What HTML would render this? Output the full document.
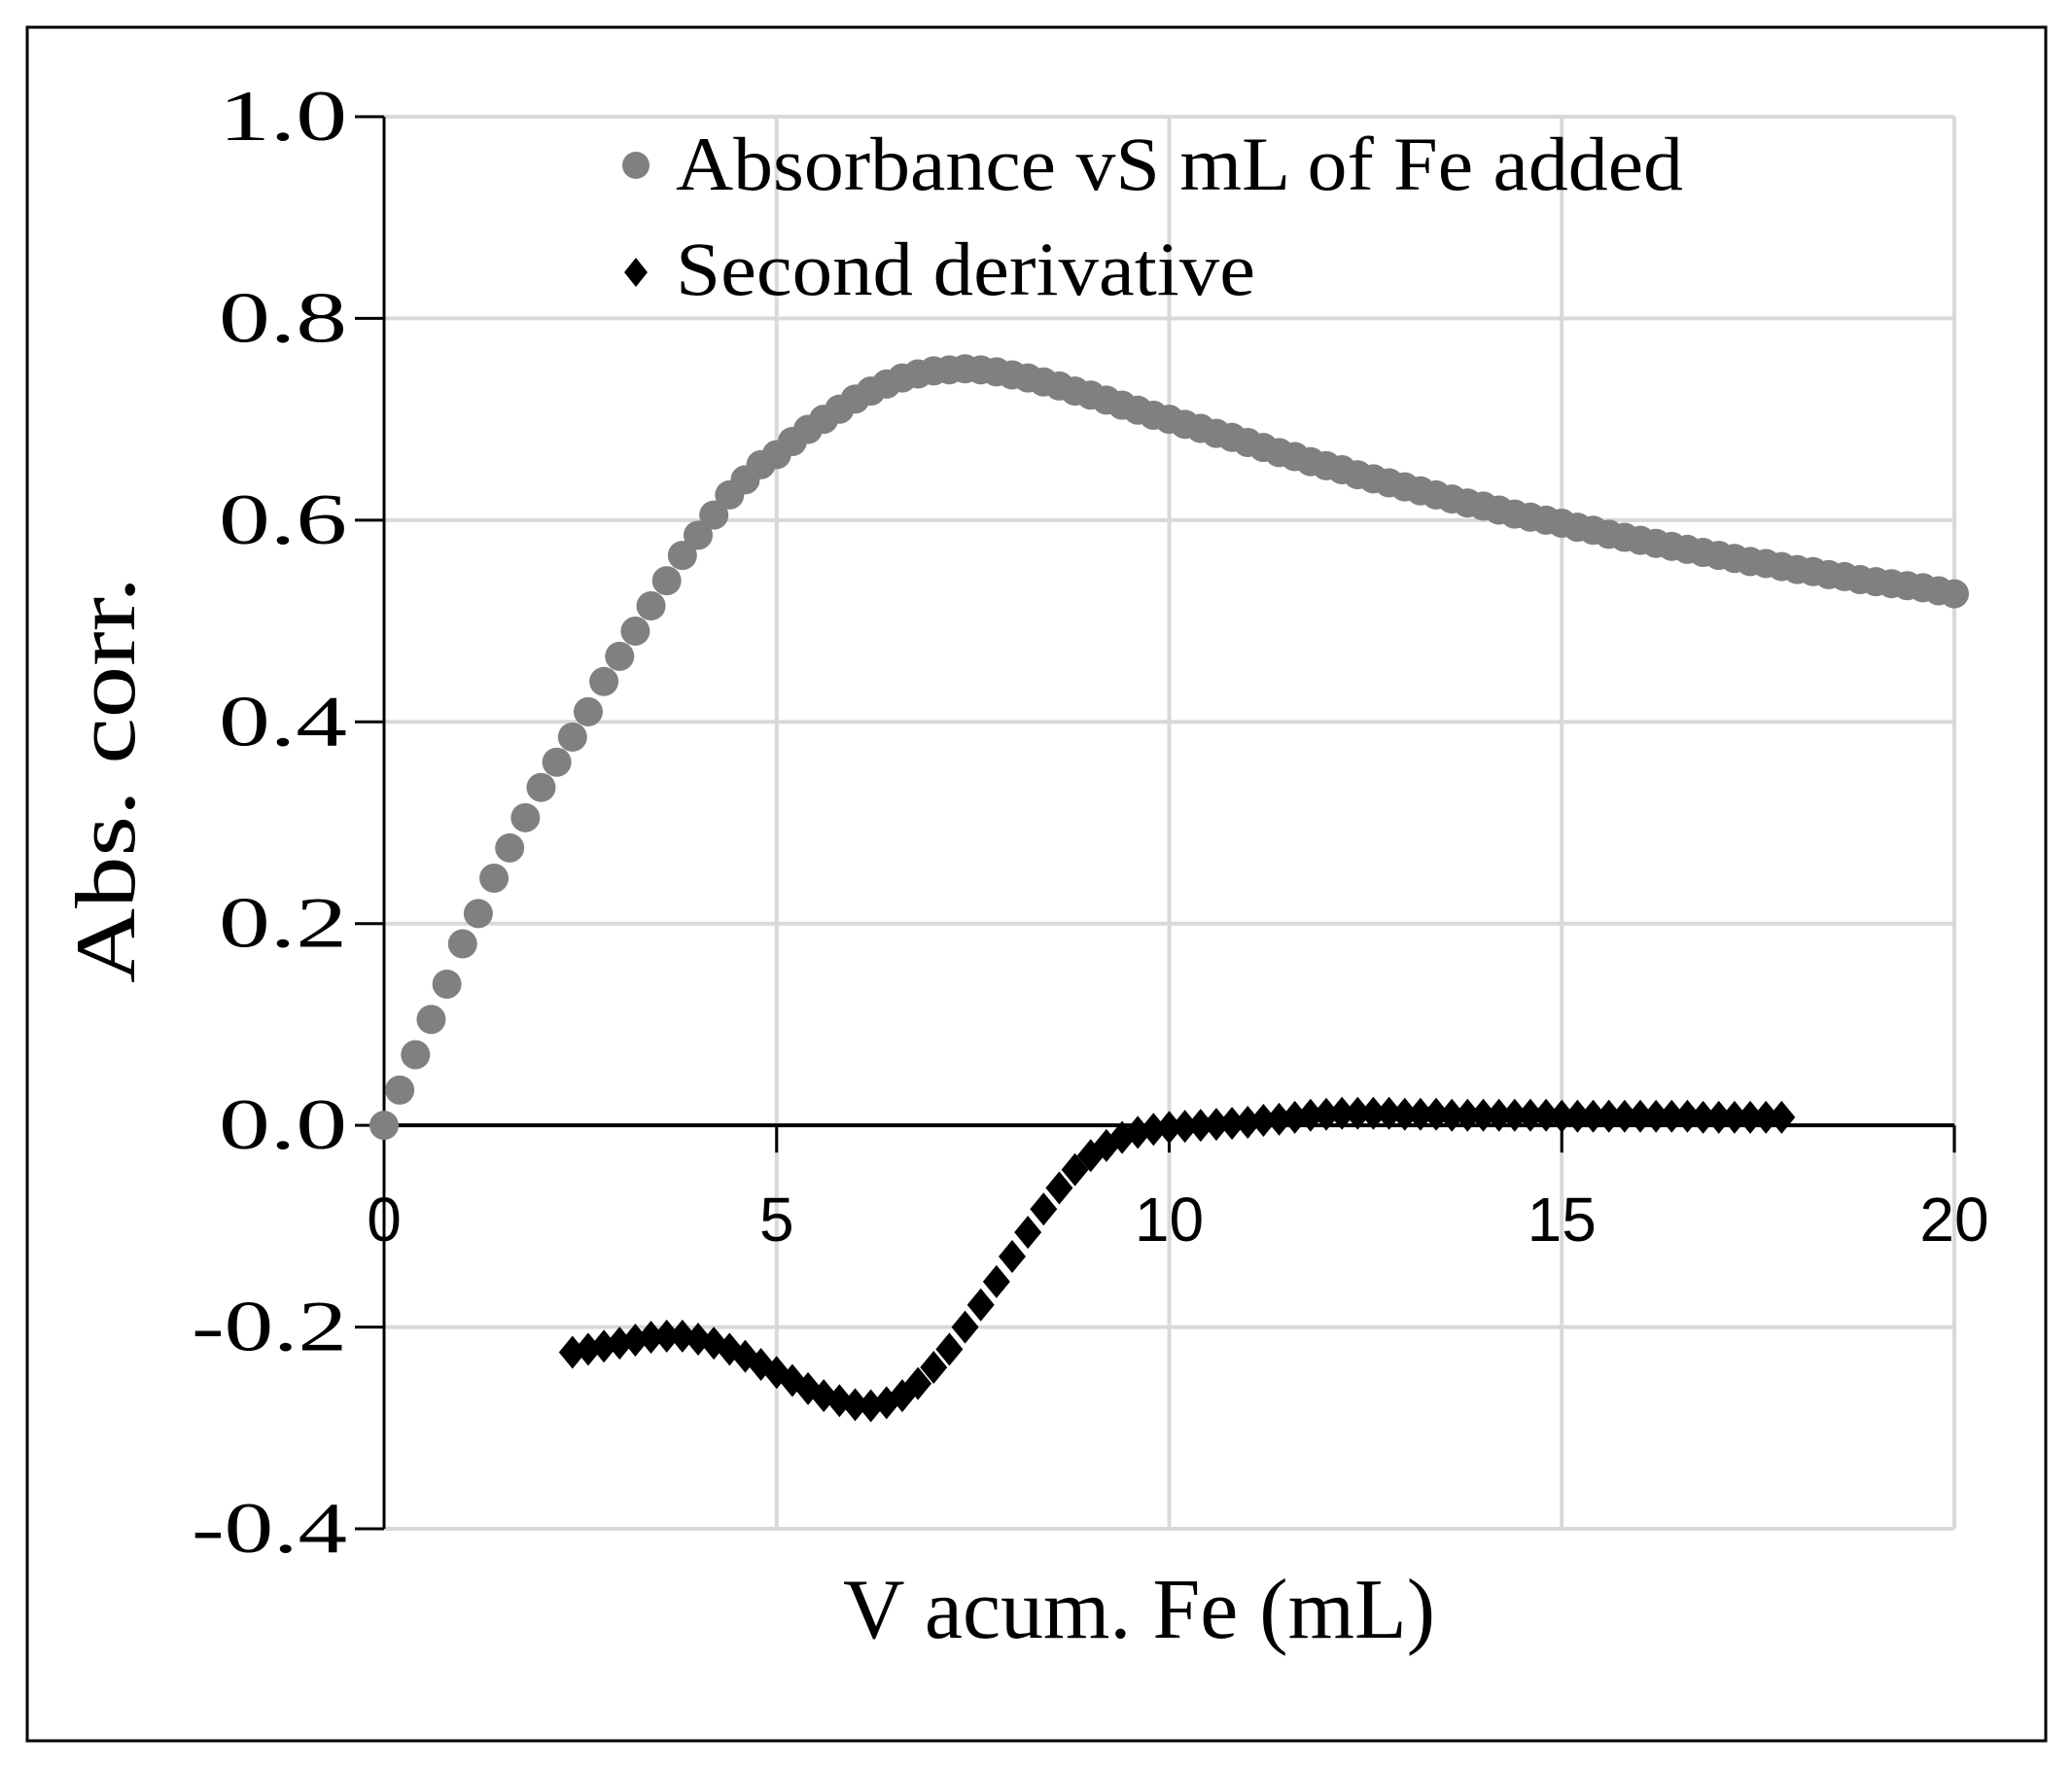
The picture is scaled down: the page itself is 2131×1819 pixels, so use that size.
<!DOCTYPE html>
<html><head><meta charset="utf-8">
<style>
html,body{margin:0;padding:0;background:#fff;}
svg{display:block;font-family:"Liberation Serif",serif;}
</style></head>
<body>
<svg id="chart" width="2131" height="1819" viewBox="0 0 2131 1819" xmlns="http://www.w3.org/2000/svg">
<rect x="28" y="28" width="2076" height="1762" fill="#fff" stroke="#000" stroke-width="3"/>
<g id="grid"></g>
<g id="axes"></g>
<g id="s1"></g>
<g id="s2"></g>
<text x="867" y="1684" font-size="88" textLength="609" lengthAdjust="spacingAndGlyphs">V acum. Fe (mL)</text>
<text transform="translate(138,802) rotate(-90)" font-size="88" text-anchor="middle" textLength="418" lengthAdjust="spacingAndGlyphs">Abs. corr.</text>
<g>
<g>
<circle cx="654" cy="170" r="14" fill="#808080"/>
<text x="695" y="195" font-size="78" textLength="1036" lengthAdjust="spacingAndGlyphs">Absorbance vS mL of Fe added</text>
</g>
<g>
<path d="M654 265 L666 280 L654 295 L642 280 Z" fill="#000"/>
<text x="695" y="303" font-size="78" textLength="596" lengthAdjust="spacingAndGlyphs">Second derivative</text>
</g>
</g>
</svg>
<script>
const xTicks = [0,5,10,15,20];
const yTicks = [1.0,0.8,0.6,0.4,0.2,0.0,-0.2,-0.4];
const yTickLabels = ["1.0","0.8","0.6","0.4","0.2","0.0","-0.2","-0.4"];
const absStart = 0, absStep = 0.2;
const absValues = [0.000,0.035,0.07,0.105,0.14,0.18,0.21,0.245,0.275,0.305,0.335,0.36,0.385,0.41,0.44,0.465,0.49,0.515,0.54,0.565,0.585,0.605,0.625,0.64,0.655,0.665,0.678,0.69,0.70,0.71,0.72,0.728,0.735,0.741,0.745,0.748,0.749,0.75,0.749,0.747,0.744,0.741,0.737,0.733,0.728,0.724,0.719,0.714,0.709,0.704,0.70,0.695,0.691,0.686,0.682,0.677,0.672,0.667,0.663,0.658,0.654,0.65,0.645,0.641,0.637,0.633,0.629,0.625,0.621,0.617,0.614,0.61,0.606,0.603,0.6,0.597,0.593,0.59,0.586,0.583,0.58,0.577,0.574,0.571,0.568,0.565,0.562,0.559,0.557,0.554,0.551,0.549,0.546,0.544,0.541,0.539,0.537,0.535,0.533,0.53,0.527];
const derStart = 2.4, derStep = 0.2;
const derValues = [-0.225,-0.222,-0.219,-0.216,-0.213,-0.21,-0.209,-0.209,-0.212,-0.216,-0.222,-0.229,-0.237,-0.245,-0.253,-0.261,-0.268,-0.273,-0.277,-0.278,-0.275,-0.268,-0.256,-0.24,-0.222,-0.2,-0.178,-0.155,-0.13,-0.106,-0.083,-0.062,-0.044,-0.03,-0.02,-0.012,-0.007,-0.004,-0.002,-0.001,0,0.001,0.002,0.003,0.005,0.006,0.008,0.01,0.011,0.012,0.012,0.012,0.012,0.011,0.011,0.011,0.01,0.01,0.01,0.01,0.01,0.01,0.01,0.009,0.009,0.009,0.009,0.009,0.009,0.009,0.009,0.009,0.008,0.008,0.008,0.008,0.008,0.008];

const NS="http://www.w3.org/2000/svg";
const L=395, R=2010, T=120, B=1572;
const xs = v => L + (v-0)/(20-0)*(R-L);
const ys = v => T + (1.0-v)/(1.4)*(B-T);
function mk(tag, attrs, parent){const e=document.createElementNS(NS,tag);for(const k in attrs)e.setAttribute(k,attrs[k]);parent.appendChild(e);return e;}
const grid=document.getElementById('grid'), axes=document.getElementById('axes');
xTicks.forEach(t=>{
  if(t===0) return;
  const g=mk('line',{x1:xs(t),x2:xs(t),y1:T,y2:B,stroke:'#d9d9d9','stroke-width':4},grid);
  
  
});
yTicks.forEach(t=>{
  if(t===0) return;
  const g=mk('line',{x1:L,x2:R,y1:ys(t),y2:ys(t),stroke:'#d9d9d9','stroke-width':4},grid);
  
  
});
const ya=mk('line',{x1:L,x2:L,y1:T,y2:B,stroke:'#000','stroke-width':3},axes);


const xa=mk('line',{x1:L,x2:R,y1:ys(0),y2:ys(0),stroke:'#000','stroke-width':4},axes);


yTicks.forEach((t,i)=>{
  const tk=mk('line',{x1:L-30,x2:L,y1:ys(t),y2:ys(t),stroke:'#000','stroke-width':3},axes);
  
  
  const w = yTickLabels[i].length===3 ? 132 : 160;
  const lb=mk('text',{x:357-w,y:ys(t)+24,'font-size':74,textLength:w,lengthAdjust:'spacingAndGlyphs'},axes);
  lb.textContent=yTickLabels[i];
  
  
});
xTicks.forEach(t=>{
  const tk=mk('line',{x1:xs(t),x2:xs(t),y1:ys(0),y2:ys(0)+28,stroke:'#000','stroke-width':3},axes);
  
  
  const lb=mk('text',{x:xs(t),y:1276,'font-size':64,'text-anchor':'middle','font-family':'"Liberation Sans",sans-serif'},axes);
  lb.textContent=String(t);
  
  
});
const s1=document.getElementById('s1');
absValues.forEach((v,i)=>{
  const c=mk('circle',{cx:xs(absStart+i*absStep),cy:ys(v),r:15,fill:'#808080'},s1);
  
  
});
const s2=document.getElementById('s2');
derValues.forEach((v,i)=>{
  const x=xs(derStart+i*derStep), y=ys(v);
  const p=mk('path',{d:`M${x} ${y-17} L${x+14} ${y} L${x} ${y+17} L${x-14} ${y} Z`,fill:'#000'},s2);
  
  
});
</script>
</body></html>
